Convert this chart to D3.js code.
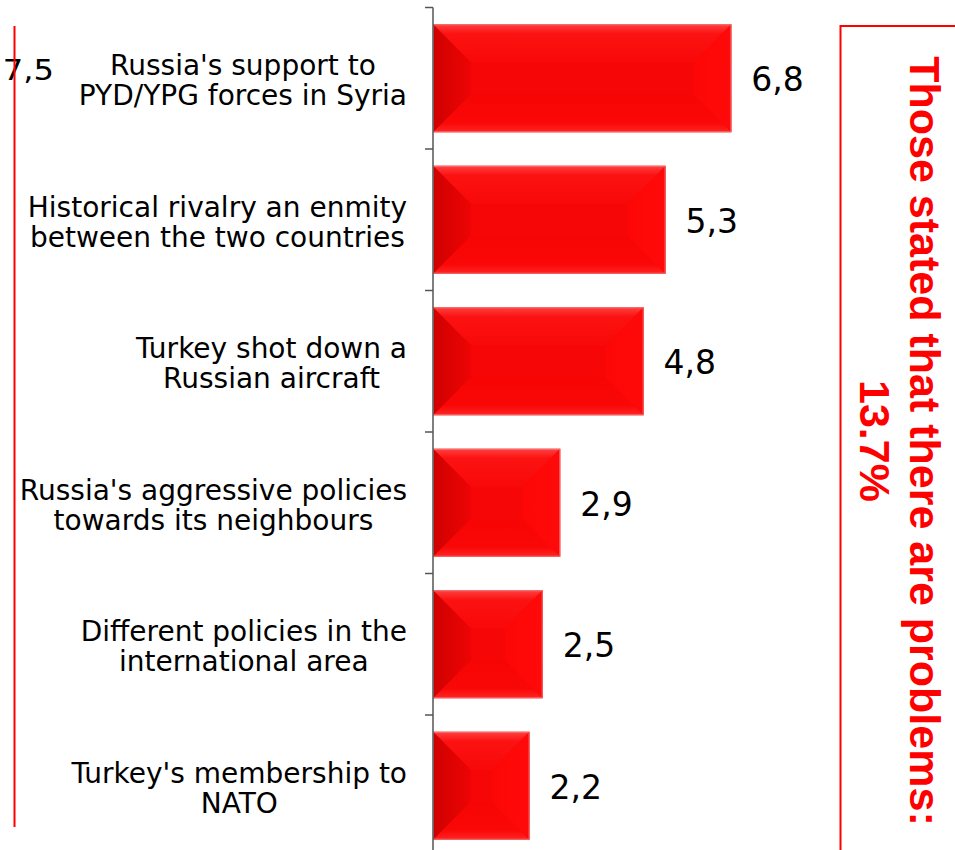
<!DOCTYPE html>
<html>
<head>
<meta charset="utf-8">
<script src="https://cdn.jsdelivr.net/npm/d3@7"></script>
<style>
  body { margin: 0; background: #fff; }
  svg { display: block; }
</style>
</head>
<body>
<div id="vis"></div>
<script>
// chart data
const categories = [
  ["Russia's support to", "PYD/YPG forces in Syria"],
  ["Historical rivalry an enmity", "between the two countries"],
  ["Turkey shot down a", "Russian aircraft"],
  ["Russia's aggressive policies", "towards its neighbours"],
  ["Different policies in the", "international area"],
  ["Turkey's membership to", "NATO"]
];
const values = [6.8, 5.3, 4.8, 2.9, 2.5, 2.2];
const sideNote = ["Those stated that there are problems:", "13.7%"];
const cutLabel = "7,5";

const width = 955;
const height = 850;

const locale = d3.formatLocale({decimal: ",", thousands: ".", grouping: [3], currency: ["", ""]});
const fmt = locale.format(".1f");

const svg = d3.select("#vis").append("svg")
  .attr("width", width)
  .attr("height", height);

const defs = svg.append("defs");
function grad(id, x2, y2, stops) {
  const g = defs.append("linearGradient").attr("id", id)
    .attr("x1", 0).attr("y1", 0).attr("x2", x2).attr("y2", y2);
  stops.forEach(s => g.append("stop").attr("offset", s[0]).attr("stop-color", s[1]));
}
grad("gTop", 0, 1, [[0, "#ff4040"], [0.25, "#fc1212"], [1, "#f90909"]]);
grad("gLeft", 1, 0, [[0, "#cf0000"], [1, "#ee0404"]]);
grad("gRight", 1, 0, [[0, "#fd0606"], [1, "#ff0a0a"]]);
grad("gBottom", 0, 1, [[0, "#f70505"], [0.75, "#fa0808"], [1, "#ff2424"]]);

const x = d3.scaleLinear().domain([0, 8]).range([433, 784]);
const y = d3.scaleBand()
  .domain(d3.range(values.length))
  .range([7.5, 856.5])
  .paddingInner(0.237)
  .paddingOuter(0.1185);
const band = y.step();

// bars with bevel
const bars = svg.append("g").selectAll("g")
  .data(values)
  .join("g");

bars.each(function(v, i) {
  const g = d3.select(this);
  const x0 = x(0), x1 = x(v), y0 = y(i), y1 = y(i) + y.bandwidth();
  const d = Math.min(38, (y1 - y0) / 2, (x1 - x0) / 2);
  const pt = p => p.join(",");
  g.append("rect")
    .attr("x", x0).attr("y", y0)
    .attr("width", x1 - x0).attr("height", y1 - y0)
    .attr("fill", "#f60606");
  g.append("polygon").attr("fill", "url(#gTop)")
    .attr("points", [[x0, y0], [x1, y0], [x1 - d, y0 + d], [x0 + d, y0 + d]].map(pt).join(" "));
  g.append("polygon").attr("fill", "url(#gBottom)")
    .attr("points", [[x0 + d, y1 - d], [x1 - d, y1 - d], [x1, y1], [x0, y1]].map(pt).join(" "));
  g.append("polygon").attr("fill", "url(#gLeft)")
    .attr("points", [[x0, y0], [x0 + d, y0 + d], [x0 + d, y1 - d], [x0, y1]].map(pt).join(" "));
  g.append("polygon").attr("fill", "url(#gRight)")
    .attr("points", [[x1, y0], [x1, y1], [x1 - d, y1 - d], [x1 - d, y0 + d]].map(pt).join(" "));
  g.append("rect")
    .attr("x", x0 + 0.5).attr("y", y0 + 0.5)
    .attr("width", x1 - x0 - 1).attr("height", y1 - y0 - 1)
    .attr("fill", "none")
    .attr("stroke", "#e8a0a0")
    .attr("stroke-opacity", 0.6);
});

// category axis
const axisG = svg.append("g");
axisG.append("line")
  .attr("x1", x(0)).attr("x2", x(0))
  .attr("y1", 7.5).attr("y2", height)
  .attr("stroke", "#555").attr("stroke-width", 1.5);
axisG.selectAll(".tick")
  .data(d3.range(values.length + 1))
  .join("line")
  .attr("x1", x(0) - 8).attr("x2", x(0))
  .attr("y1", i => 7.5 + i * band).attr("y2", i => 7.5 + i * band)
  .attr("stroke", "#555").attr("stroke-width", 1.5);

// category labels, centered block right-aligned at 407
const labelRight = 407;
categories.forEach((lines, i) => {
  const cy = 7.5 + (i + 0.5) * band;
  const t = svg.append("text")
    .attr("font-family", "'DejaVu Sans', Verdana, sans-serif")
    .attr("font-size", 28)
    .attr("fill", "#000")
    .attr("text-anchor", "middle");
  const spans = lines.map((l, k) => t.append("tspan")
    .attr("y", cy - 3 + k * 30)
    .text(l));
  const maxW = d3.max(spans, s => s.node().getComputedTextLength());
  spans.forEach(s => s.attr("x", labelRight - maxW / 2));
});

// value labels
svg.append("g").selectAll("text")
  .data(values)
  .join("text")
  .attr("x", v => x(v) + 20)
  .attr("y", (v, i) => y(i) + y.bandwidth() / 2 + 13)
  .attr("font-family", "'DejaVu Sans', Verdana, sans-serif")
  .attr("font-size", 33)
  .attr("fill", "#000")
  .text(v => fmt(v));

// fragment of the neighbouring chart on the left
svg.append("text")
  .attr("transform", "translate(54,80) scale(1.15,1)")
  .attr("text-anchor", "end")
  .attr("font-family", "'DejaVu Sans', Verdana, sans-serif")
  .attr("font-size", 28)
  .attr("fill", "#000")
  .text(cutLabel);
svg.append("line")
  .attr("x1", 14.5).attr("x2", 14.5)
  .attr("y1", 26).attr("y2", 827)
  .attr("stroke", "#ff0000").attr("stroke-width", 2);

// right bracket
svg.append("path")
  .attr("d", d3.line()([[width, 26], [840.5, 26], [840.5, height]]))
  .attr("fill", "none")
  .attr("stroke", "#ff0000").attr("stroke-width", 2);

// rotated note
const note = svg.append("text")
  .attr("transform", "translate(910,441) rotate(90)")
  .attr("text-anchor", "middle")
  .attr("font-family", "'Liberation Sans', Arial, sans-serif")
  .attr("font-weight", "bold")
  .attr("font-size", 43)
  .attr("fill", "#ff0000");
sideNote.forEach((l, k) => note.append("tspan")
  .attr("x", 0).attr("y", k * 50)
  .text(l));
</script>
</body>
</html>
